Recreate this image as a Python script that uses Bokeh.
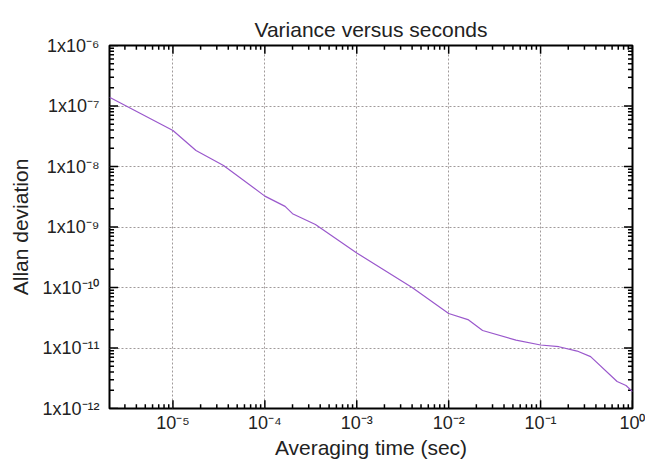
import math
from bokeh.plotting import figure
from bokeh.models import Range1d, FixedTicker, CustomJSTickFormatter, LinearScale
from bokeh.embed import file_html
from bokeh.resources import INLINE

# Data
tau = [2.04e-6, 1.0e-5, 1.78e-5, 3.55e-5, 1.0e-4, 1.66e-4, 2.0e-4, 3.55e-4,
       1.0e-3, 4.0e-3, 1.0e-2, 1.62e-2, 2.34e-2, 5.4e-2, 0.1, 0.158, 0.25,
       0.35, 0.68, 0.85, 1.0]
adev = [1.40e-7, 3.94e-8, 1.84e-8, 1.04e-8, 3.24e-9, 2.19e-9, 1.66e-9, 1.10e-9,
        3.72e-10, 1.0e-10, 3.72e-11, 2.95e-11, 1.95e-11, 1.35e-11, 1.12e-11,
        1.05e-11, 8.9e-12, 7.2e-12, 2.8e-12, 2.4e-12, 1.9e-12]

x_ticks = [1e-5, 1e-4, 1e-3, 1e-2, 1e-1, 1e0]
x_tick_labels = ["10⁻⁵", "10⁻⁴", "10⁻³", "10⁻²", "10⁻¹", "10⁰"]
y_ticks = [1e-12, 1e-11, 1e-10, 1e-9, 1e-8, 1e-7, 1e-6]
y_tick_labels = ["1x10⁻¹²", "1x10⁻¹¹", "1x10⁻¹⁰", "1x10⁻⁹", "1x10⁻⁸", "1x10⁻⁷", "1x10⁻⁶"]

x_min, x_max = 2.04e-6, 1.0
y_min, y_max = 1e-12, 1e-6

FONT = "Liberation Sans"

p = figure(width=645, height=464, x_axis_type="log", y_axis_type="log",
           x_range=Range1d(x_min, x_max), y_range=Range1d(y_min, y_max),
           output_backend="svg", toolbar_location=None,
           min_border_left=109, min_border_right=13, min_border_top=45,
           min_border_bottom=56,
           title="Variance versus seconds",
           x_axis_label="Averaging time (sec)", y_axis_label="Allan deviation")

# helper ranges spanning the frame edge to edge (0 = left/bottom, 1 = right/top)
eps = 1e-3
p.extra_x_ranges = {"edge": Range1d(-eps, 1 + eps)}
p.extra_y_ranges = {"edge": Range1d(-eps, 1 + eps)}
p.extra_x_scales = {"edge": LinearScale()}
p.extra_y_scales = {"edge": LinearScale()}

p.title.align = "center"
p.title.text_font = FONT
p.title.text_font_size = "21px"
p.title.text_font_style = "normal"
p.title.text_color = "#222222"
p.title.offset = 0
p.title.standoff = 10

p.outline_line_color = "black"
p.outline_line_width = 2
p.outline_line_alpha = 1
p.background_fill_color = "white"
p.border_fill_color = "white"

x_minor = [k * 10.0 ** d for d in range(-6, 0) for k in range(2, 10)]
y_minor = [k * 10.0 ** d for d in range(-12, -6) for k in range(2, 10)]
xt = FixedTicker(ticks=x_ticks, minor_ticks=x_minor)
yt = FixedTicker(ticks=y_ticks, minor_ticks=y_minor)

code = """
let best = 0, bd = 1e9;
for (let i = 0; i < vals.length; i++) {
  const d = Math.abs(Math.log10(vals[i]) - Math.log10(tick));
  if (d < bd) { bd = d; best = i; }
}
return bd < 0.01 ? labs[best] : "";
"""
xf = CustomJSTickFormatter(args=dict(vals=x_ticks, labs=x_tick_labels), code=code)
yf = CustomJSTickFormatter(args=dict(vals=y_ticks, labs=y_tick_labels), code=code)

for ax, t, f in ((p.xaxis[0], xt, xf), (p.yaxis[0], yt, yf)):
    ax.ticker = t
    ax.formatter = f
    ax.axis_line_color = None
    ax.major_tick_line_color = None
    ax.minor_tick_line_color = None
    ax.major_tick_in = 0
    ax.major_tick_out = 0
    ax.minor_tick_in = 0
    ax.minor_tick_out = 0
    ax.major_label_text_font = FONT
    ax.major_label_text_font_size = "18px"
    ax.major_label_text_color = "#222222"
    ax.axis_label_text_font = FONT
    ax.axis_label_text_font_size = "21px"
    ax.axis_label_text_font_style = "normal"
    ax.axis_label_text_color = "#222222"

p.xaxis[0].major_label_standoff = 4
p.xaxis[0].axis_label_standoff = 0
p.yaxis[0].major_label_standoff = 10
p.yaxis[0].axis_label_standoff = 7

for g, t in ((p.xgrid[0], xt), (p.ygrid[0], yt)):
    g.ticker = t
    g.grid_line_color = "#a09a9a"
    g.grid_line_dash = "2 2"
    g.grid_line_width = 1

# inward tick marks on all four sides: dash markers centred on the frame edge,
# their outer half is clipped away by the frame
tick_kw = dict(marker="dash", line_color="black", line_width=1.5, fill_color=None)
for xs, size in ((x_ticks, 16), (x_minor, 8)):
    for edge in (0, 1):
        p.scatter(xs, [edge] * len(xs), size=size, angle=math.pi / 2,
                  y_range_name="edge", **tick_kw)
for ys, size in ((y_ticks, 16), (y_minor, 8)):
    for edge in (0, 1):
        p.scatter([edge] * len(ys), ys, size=size, angle=0,
                  x_range_name="edge", **tick_kw)

p.line(tau, adev, line_color="#9a58cc", line_width=1.2)

open("out.html", "w").write(file_html(p, INLINE))
